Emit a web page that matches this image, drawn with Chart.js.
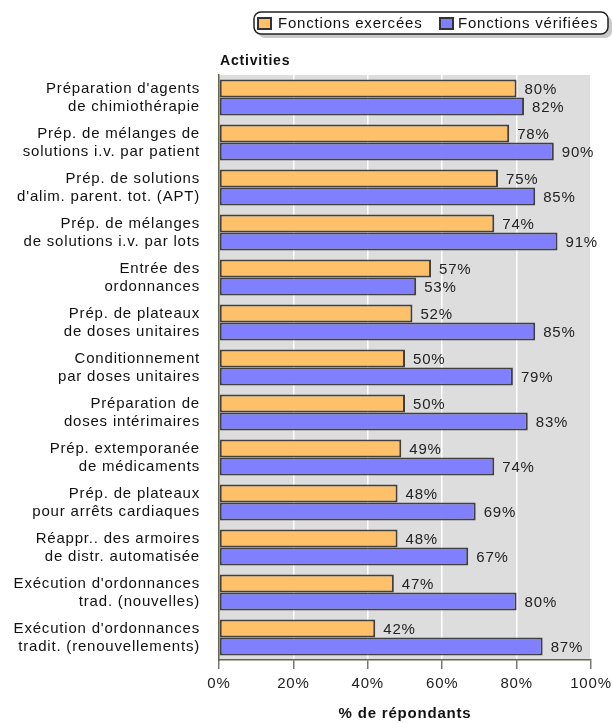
<!DOCTYPE html>
<html>
<head>
<meta charset="utf-8">
<style>
  html, body { margin: 0; padding: 0; background: #fff; }
  #wrap { width: 612px; height: 723px; position: relative; }
</style>
<script src="https://cdn.jsdelivr.net/npm/chart.js@4"></script>
</head>
<body>
<div id="wrap"><canvas id="chart" width="612" height="723"></canvas></div>
<script>
// Activity labels, two lines each
const categories = [
    ["Préparation d'agents", "de chimiothérapie"],
    ["Prép. de mélanges de", "solutions i.v. par patient"],
    ["Prép. de solutions", "d'alim. parent. tot. (APT)"],
    ["Prép. de mélanges", "de solutions i.v. par lots"],
    ["Entrée des", "ordonnances"],
    ["Prép. de plateaux", "de doses unitaires"],
    ["Conditionnement", "par doses unitaires"],
    ["Préparation de", "doses intérimaires"],
    ["Prép. extemporanée", "de médicaments"],
    ["Prép. de plateaux", "pour arrêts cardiaques"],
    ["Réappr.. des armoires", "de distr. automatisée"],
    ["Exécution d'ordonnances", "trad. (nouvelles)"],
    ["Exécution d'ordonnances", "tradit. (renouvellements)"]
];
const exercees = [80, 78, 75, 74, 57, 52, 50, 50, 49, 48, 48, 47, 42];
const verifiees = [82, 90, 85, 91, 53, 85, 79, 83, 74, 69, 67, 80, 87];
const seriesNames = ['Fonctions exercées', 'Fonctions vérifiées'];
const xTicks = [0, 20, 40, 60, 80, 100];

const COLORS = ['#FFC06A', '#8080FF'];
const FONT = '"Liberation Sans", Arial, sans-serif';

// grey plot background + letter spacing for all text
const backdrop = {
    id: 'backdrop',
    beforeDraw(chart) {
        const { ctx, chartArea: a } = chart;
        ctx.letterSpacing = '0.8px';
        ctx.save();
        ctx.fillStyle = '#DDDDDD';
        ctx.fillRect(a.left, a.top, a.right - a.left, a.bottom - a.top);
        ctx.restore();
    }
};

// percentage labels at bar ends, legend box and "Activities" heading
const decorations = {
    id: 'decorations',
    afterDraw(chart) {
        const ctx = chart.ctx;
        ctx.save();
        ctx.letterSpacing = '0.8px';
        ctx.font = '15px ' + FONT;
        ctx.fillStyle = '#222';
        ctx.textAlign = 'left';
        ctx.textBaseline = 'middle';
        chart.data.datasets.forEach((ds, i) => {
            chart.getDatasetMeta(i).data.forEach((bar, j) => {
                ctx.fillText(ds.data[j] + '%', bar.x + 8, bar.y + 1);
            });
        });

        // legend
        const lx = 254, ly = 12, lw = 354, lh = 22;
        ctx.fillStyle = '#C8C8C8';
        roundRect(ctx, lx + 4, ly + 4, lw, lh, 7);
        ctx.fill();
        ctx.fillStyle = '#FFFFFF';
        ctx.strokeStyle = '#222';
        ctx.lineWidth = 1.5;
        roundRect(ctx, lx, ly, lw, lh, 7);
        ctx.fill();
        ctx.stroke();
        const items = [{ x: 258, tx: 278 }, { x: 440, tx: 458 }];
        items.forEach((it, i) => {
            ctx.fillStyle = COLORS[i];
            ctx.strokeStyle = '#333';
            ctx.lineWidth = 2;
            ctx.fillRect(it.x, 18, 13, 11);
            ctx.strokeRect(it.x, 18, 13, 11);
            ctx.fillStyle = '#111';
            ctx.font = '15px ' + FONT;
            ctx.fillText(seriesNames[i], it.tx, 24);
        });

        ctx.font = 'bold 14px ' + FONT;
        ctx.fillStyle = '#111';
        ctx.fillText('Activities', 220, 61);
        ctx.restore();
    }
};

function roundRect(ctx, x, y, w, h, r) {
    ctx.beginPath();
    ctx.moveTo(x + r, y);
    ctx.arcTo(x + w, y, x + w, y + h, r);
    ctx.arcTo(x + w, y + h, x, y + h, r);
    ctx.arcTo(x, y + h, x, y, r);
    ctx.arcTo(x, y, x + w, y, r);
    ctx.closePath();
}

new Chart(document.getElementById('chart'), {
    type: 'bar',
    data: {
        labels: categories,
        datasets: [
            { label: seriesNames[0], data: exercees, backgroundColor: COLORS[0] },
            { label: seriesNames[1], data: verifiees, backgroundColor: COLORS[1] }
        ]
    },
    options: {
        indexAxis: 'y',
        responsive: false,
        animation: false,
        devicePixelRatio: 1,
        layout: { padding: { top: 75, right: 21, bottom: 0, left: 0 } },
        datasets: {
            bar: {
                borderColor: '#404040',
                borderWidth: 2,
                borderSkipped: false,
                categoryPercentage: 0.8,
                barPercentage: 1.0
            }
        },
        plugins: {
            legend: { display: false },
            tooltip: { enabled: false }
        },
        scales: {
            x: {
                min: 0,
                max: 100,
                afterBuildTicks(scale) {
                    scale.ticks = xTicks.map(v => ({ value: v }));
                },
                afterFit(scale) {
                    scale.height = 63;
                    scale.paddingLeft = 0;
                    scale.paddingRight = 0;
                },
                grid: {
                    color: ctx => ctx.tick && ctx.tick.value === 0 ? 'rgba(0,0,0,0)' : '#FFFFFF',
                    lineWidth: 1.5,
                    tickColor: '#777',
                    tickLength: 9,
                    drawOnChartArea: true
                },
                border: { display: true, color: '#66644A', width: 1.5 },
                ticks: {
                    padding: 6,
                    color: '#222',
                    font: { family: FONT, size: 15 },
                    callback: v => v + '%'
                },
                title: {
                    display: true,
                    text: '% de répondants',
                    color: '#111',
                    font: { family: FONT, size: 15, weight: 'bold' },
                    padding: { top: 0, bottom: 0 }
                }
            },
            y: {
                afterFit(scale) { scale.width = 219; },
                grid: { display: false, drawTicks: false },
                border: { display: true, color: '#66644A', width: 1.5 },
                ticks: {
                    padding: 19,
                    color: '#111',
                    font: { family: FONT, size: 15, lineHeight: 1.2 }
                }
            }
        }
    },
    plugins: [backdrop, decorations]
});
</script>
</body>
</html>
